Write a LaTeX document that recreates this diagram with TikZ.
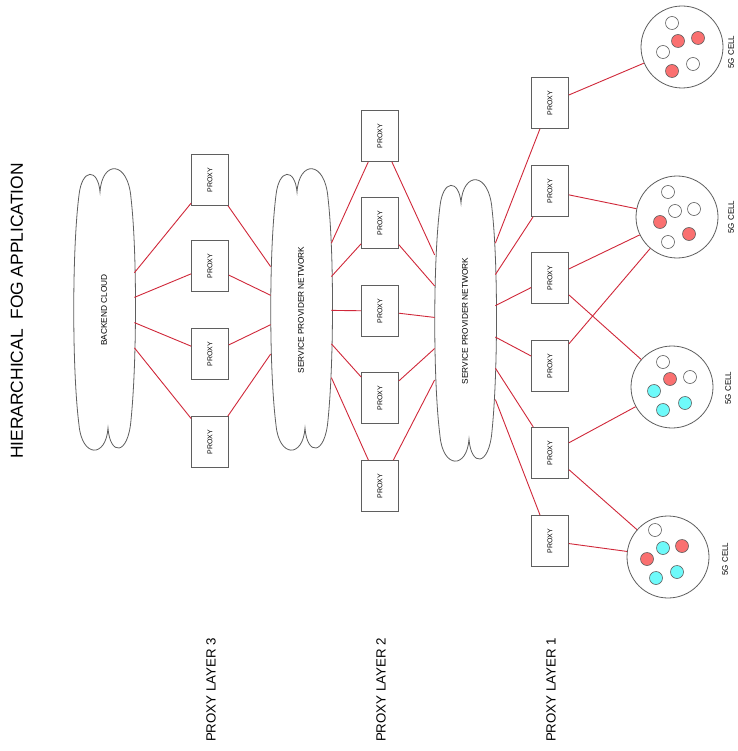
\documentclass[tikz,border=0pt]{standalone}
\usepackage{fontspec}
\setmainfont{Liberation Sans}
\usepackage{tikz}
\usetikzlibrary{positioning}
\definecolor{linkred}{RGB}{208,40,58}
\definecolor{edgegray}{RGB}{95,95,95}
\definecolor{uered}{RGB}{250,112,112}
\definecolor{uecyan}{RGB}{110,250,250}
\tikzset{every picture/.style={line width=0.8pt}}

\begin{document}
\begin{tikzpicture}[x=1pt,y=-1pt,
  proxy/.style={draw=edgegray,rectangle,minimum width=51pt,minimum height=37pt,inner sep=0pt,rotate=90,font=\fontsize{7}{8}\selectfont},
  fogcloud/.style={rectangle,minimum width=240pt,minimum height=60pt,inner sep=0pt,rotate=90,font=\fontsize{8.3}{9}\selectfont},
  cell/.style={draw=edgegray,circle,minimum size=82pt,inner sep=0pt},
  celltext/.style={rotate=90,inner sep=0pt,font=\fontsize{8}{9}\selectfont},
  layertext/.style={rotate=90,inner sep=0pt,font=\fontsize{13.3}{14}\selectfont},
  link/.style={draw=linkred,line width=0.9pt},
  ue/.style={draw=edgegray,line width=0.6pt}]
\fill[white] (0,0) rectangle (737,751);
\useasboundingbox (0,0) rectangle (737,751);
%
\node[rotate=90,inner sep=0pt,font=\fontsize{17.4}{18}\selectfont] (title) at (17,311) {HIERARCHICAL~~FOG APPLICATION};
%
\node[fogcloud] (b) at (104,310) {BACKEND CLOUD};
\node[fogcloud] (s1) at (301,310) {SERVICE PROVIDER NETWORK};
\node[fogcloud] (s2) at (465,321) {SERVICE PROVIDER NETWORK};
\foreach \c in {b,s1,s2}
\draw[edgegray,shift={(\c)}] (-4,-118) .. controls (-6,-142) and (-22,-142) .. (-25,-115)
  .. controls (-32,-60) and (-32,60) .. (-25,115)
  .. controls (-22,148) and (2,148) .. (4,118)
  .. controls (6,146) and (24,146) .. (27,110)
  .. controls (33,50) and (33,-60) .. (27,-112)
  .. controls (24,-150) and (-2,-150) .. cycle;
%
\node[proxy] (31) at (210,180) {PROXY};
\node[proxy] (32) at (210,266) {PROXY};
\node[proxy] (33) at (210,354) {PROXY};
\node[proxy] (34) at (210,442) {PROXY};
%
\node[proxy] (21) at (380,136) {PROXY};
\node[proxy] (22) at (380,223) {PROXY};
\node[proxy] (23) at (380,311) {PROXY};
\node[proxy] (24) at (380,398) {PROXY};
\node[proxy] (25) at (380,486) {PROXY};
%
\node[proxy] (11) at (550,103) {PROXY};
\node[proxy] (12) at (550,191) {PROXY};
\node[proxy] (13) at (550,278) {PROXY};
\node[proxy] (14) at (550,366) {PROXY};
\node[proxy] (15) at (550,453) {PROXY};
\node[proxy] (16) at (550,541) {PROXY};
%
\node[cell] (c1) at (682,47) {};
\node[cell] (c2) at (677,217) {};
\node[cell] (c3) at (672,387) {};
\node[cell] (c4) at (668,557) {};
\node[celltext] (t1) at (731,52) {5G CELL};
\node[celltext] (t2) at (731,217) {5G CELL};
\node[celltext] (t3) at (728,388) {5G CELL};
\node[celltext] (t4) at (725,559) {5G CELL};
%
\foreach \x/\y/\col in {%
	672/23/white, 678/41/uered, 698/38/uered, 663/52/white, 693/64/white, 672/71/uered,
	668/192/white, 675/211/white, 694/209/white, 660/222/uered, 689/234/uered, 668/242/white,
	663/362/white, 670/379/uered, 690/377/white, 654/391/uecyan, 685/403/uecyan, 663/410/uecyan,
	655/530/white, 663/548/uecyan, 682/546/uered, 647/559/uered, 677/572/uecyan, 656/578/uecyan%
    }
\draw[ue,fill=\col] (\x,\y) circle (6.5);
%
\node[layertext] (l3) at (211,690) {PROXY LAYER 3};
\node[layertext] (l2) at (381,690) {PROXY LAYER 2};
\node[layertext] (l1) at (551,690) {PROXY LAYER 1};
%
\foreach \Source/\Target in {%
	b/31, b/32, b/33, b/34,
	31/s1, 32/s1, 33/s1, 34/s1,
	s1/21, s1/22, s1/23, s1/24, s1/25,
	21/s2, 22/s2, 23/s2, 24/s2, 25/s2,
	s2/11, s2/12, s2/13, s2/14, s2/15, s2/16,
	11/c1, 12/c2, 13/c2, 13/c3, 14/c2, 15/c3, 15/c4, 16/c4%
    }
\draw[link] (\Source) to (\Target);
\end{tikzpicture}
\end{document}
